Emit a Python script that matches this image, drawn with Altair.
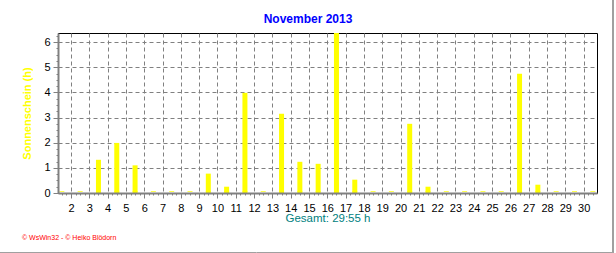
import altair as alt
import pandas as pd
import numpy as np

# ---- data ----
days = list(range(1, 31))
sunshine = [0, 0, 1.32, 1.99, 1.10, 0, 0, 0, 0.77, 0.25,
            3.98, 0, 3.15, 1.24, 1.16, 6.36, 0.53, 0, 0, 2.75,
            0.25, 0, 0, 0, 0, 4.74, 0.33, 0, 0, 0]
x_tick_labels = list(range(2, 31))
y_tick_values = [0, 1, 2, 3, 4, 5, 6]
title_text = "November 2013"
y_title = "Sonnenschein (h)"
total_text = "Gesamt: 29:55 h"
footer_text = "© WsWin32 - © Heiko Blödorn"

df = pd.DataFrame({"day": days, "sun": sunshine})
df["pos"] = df["day"] + 0.5
df["zero"] = 0.0

W, H = 539, 160
xscale = alt.Scale(domain=[1.29, 30.73], nice=False, zero=False, padding=0)
yscale = alt.Scale(domain=[0, 6.36], nice=False, padding=0)
GRID = "#808080"
FONT = "Liberation Sans"

x_main = alt.X("pos:Q", scale=xscale, axis=alt.Axis(
    values=x_tick_labels, orient="bottom", title=None,
    labelFont=FONT, labelFontSize=11, labelColor="black", labelPadding=4,
    labelFlush=False, labelOverlap=False, labelBaseline="top",
    tickSize=5, tickColor=GRID, tickWidth=1,
    domain=False, grid=True, gridColor=GRID, gridDash=[4, 3], gridOpacity=1, gridWidth=1,
    zindex=0))
y_main = alt.Y("sun:Q", scale=yscale, axis=alt.Axis(
    values=y_tick_values, orient="left", title=y_title,
    titleFont=FONT, titleFontSize=11, titleFontWeight="bold", titleColor="#FFFF00",
    titleX=-31, titleY=80, titleAngle=-90, titleAlign="center", titleBaseline="middle",
    labelFont=FONT, labelFontSize=11, labelColor="black", labelPadding=3,
    labelFlush=False, labelOverlap=False,
    tickSize=5, tickColor=GRID, tickWidth=1,
    domain=False, grid=True, gridColor=GRID, gridDash=[4, 3], gridOpacity=1, gridWidth=1,
    zindex=0))

bars = alt.Chart(df).mark_bar(color="#FFFF00", size=5, opacity=1).encode(x=x_main, y=y_main)

x_minor = alt.X("pos:Q", scale=xscale, axis=alt.Axis(
    values=[float(v) for v in np.arange(1.5, 30.51, 0.25)], orient="bottom", title=None,
    labels=False, tickSize=2, tickColor=GRID, tickWidth=1, grid=False,
    domain=True, domainColor=GRID, domainWidth=2, zindex=1))
y_minor = alt.Y("zero:Q", scale=yscale, axis=alt.Axis(
    values=[float(v) for v in np.arange(0, 6.36, 0.25)], orient="left", title=None,
    labels=False, tickSize=2, tickColor=GRID, tickWidth=1, grid=False,
    domain=True, domainColor=GRID, domainWidth=2, zindex=1))

zero_marks = alt.Chart(df).mark_tick(color="#FFFF00", thickness=1, size=5,
                                     orient="horizontal", yOffset=-1.5).encode(x=x_minor, y=y_minor)

plot = alt.layer(bars, zero_marks).resolve_axis(x="independent", y="independent")

title = alt.Chart(pd.DataFrame({"t": [title_text]})).mark_text(
    font=FONT, fontSize=12, fontWeight="bold", color="#0000FF", align="center", baseline="middle"
).encode(x=alt.value(250), y=alt.value(-14), text="t:N")

total = alt.Chart(pd.DataFrame({"t": [total_text]})).mark_text(
    font=FONT, fontSize=11.5, color="#008080", align="center", baseline="middle"
).encode(x=alt.value(270), y=alt.value(186), text="t:N")

footer = alt.Chart(pd.DataFrame({"t": [footer_text]})).mark_text(
    font=FONT, fontSize=7, color="#FF0000", align="left", baseline="middle"
).encode(x=alt.value(-36), y=alt.value(205), text="t:N")

frame_right = alt.Chart(pd.DataFrame({"a": [0]})).mark_rule(color="#a0a0a0", strokeWidth=2).encode(
    x=alt.value(555), y=alt.value(-33), y2=alt.value(220))
frame_bottom = alt.Chart(pd.DataFrame({"a": [0]})).mark_rule(color="#a0a0a0", strokeWidth=1).encode(
    x=alt.value(-58), x2=alt.value(556), y=alt.value(219.5))

chart = alt.layer(plot, title, total, footer, frame_right, frame_bottom).properties(
    width=W, height=H,
    autosize=alt.AutoSizeParams(type="none"),
    padding={"left": 58, "top": 33, "right": 19, "bottom": 60},
    background="white",
).configure_view(stroke="black", strokeWidth=1)

chart.save("out.html", embed_options={"renderer": "svg", "actions": False})
